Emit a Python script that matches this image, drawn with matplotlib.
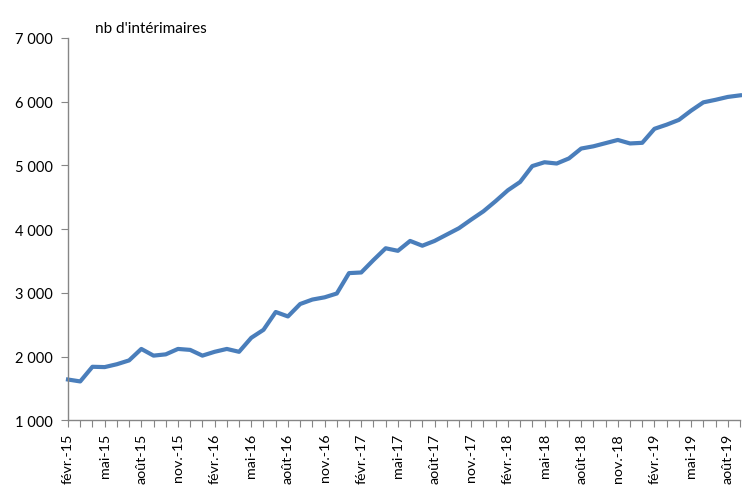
import matplotlib
matplotlib.use("Agg")
import matplotlib.pyplot as plt
from matplotlib.ticker import FuncFormatter

plt.rcParams['font.family'] = ['Lato', 'DejaVu Sans']

months = ["févr.", "mars", "avr.", "mai", "juin", "juil.", "août", "sept.", "oct.", "nov.", "déc.", "janv."]
# monthly labels from févr.-15 to sept.-19
labels = []
year = 15
for i in range(56):
    m = months[i % 12]
    if m == "janv." and i > 0:
        year += 1
    labels.append(f"{m}-{year}")

values = [1640, 1610, 1840, 1835, 1880, 1940, 2120, 2015, 2035, 2120,
          2105, 2015, 2075, 2120, 2075, 2295, 2420, 2700, 2630, 2825,
          2895, 2930, 2990, 3310, 3320, 3515, 3700, 3660, 3815, 3740,
          3815, 3915, 4015, 4150, 4280, 4440, 4610, 4740, 4990, 5050,
          5030, 5110, 5265, 5300, 5350, 5400, 5345, 5355, 5575, 5640,
          5715, 5860, 5990, 6030, 6075, 6100]

yticks = [1000, 2000, 3000, 4000, 5000, 6000, 7000]

fig = plt.figure(figsize=(7.42, 4.89), dpi=100)
ax = fig.add_axes([68/742, 1 - 421.3/489, (740 - 68)/742, (421.3 - 39)/489])

x = list(range(len(values)))
ax.plot(x, values, color="#4A7EBB", lw=3.0, solid_joinstyle="round", clip_on=False)

ax.set_xlim(0, len(values) - 1)
ax.set_ylim(1000, 7000)

ax.set_yticks(yticks)
ax.yaxis.set_major_formatter(FuncFormatter(lambda v, p: f"{int(v):,}".replace(",", " ")))

ax.set_xticks(x)
ax.set_xticklabels([lab if i % 3 == 0 else "" for i, lab in enumerate(labels)], rotation=90)

for s in ["top", "right"]:
    ax.spines[s].set_visible(False)
for s in ["left", "bottom"]:
    ax.spines[s].set_color("#868686")
    ax.spines[s].set_linewidth(1.0)

ax.tick_params(axis="y", direction="out", length=5, color="#868686", labelsize=10.5, pad=6, labelcolor="black")
ax.tick_params(axis="x", direction="out", length=5, color="#868686", labelsize=10.3, pad=4, labelcolor="black")

fig.text(95/742, 1 - 33/489, "nb d'intérimaires", fontsize=11, ha="left", va="baseline")

fig.savefig("out.png", dpi=100)
